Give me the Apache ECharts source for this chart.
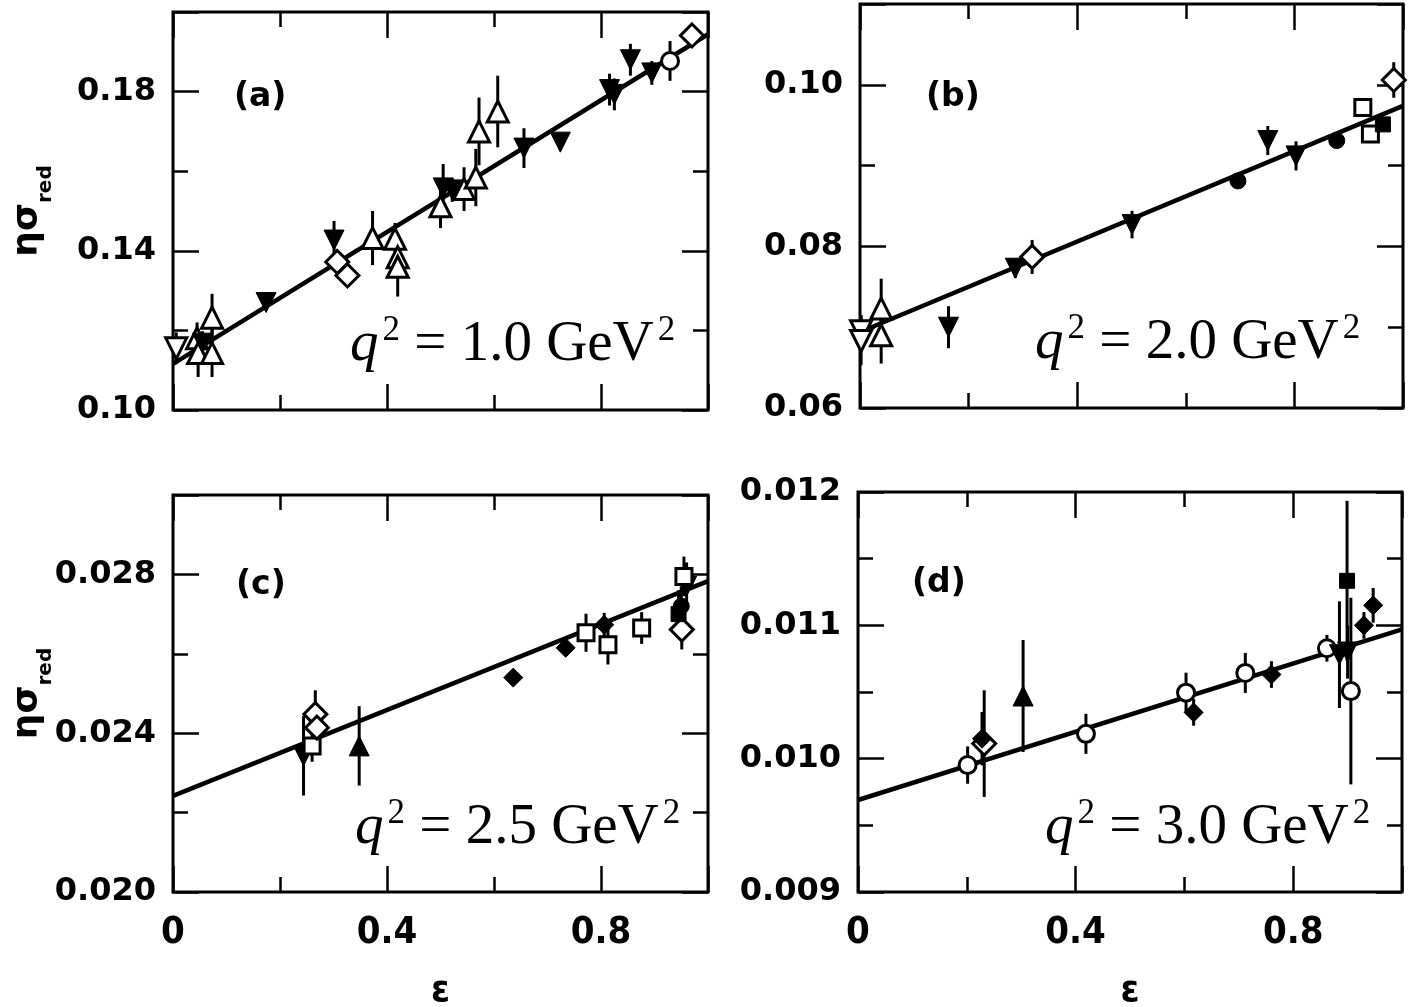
<!DOCTYPE html>
<html>
<head>
<meta charset="utf-8">
<script src="https://cdn.jsdelivr.net/npm/echarts@6/dist/echarts.min.js"></script>
<style>
  html, body { margin: 0; padding: 0; background: #fff; }
  #chart { width: 1418px; height: 1007px; }
</style>
</head>
<body>
<div id="chart"></div>
<script>
// Reduced cross sections eta*sigma_red versus epsilon at four q^2 values.
// Each point: [epsilon, eta*sigma_red, error half-length]

// (a) q^2 = 1.0 GeV^2
const a_openUp = [[0.045,0.1180,0.004],[0.047,0.1143,0.006],[0.073,0.1232,0.006],[0.073,0.1143,0.006],
  [0.373,0.1432,0.0068],[0.415,0.1430,0.004],[0.420,0.1384,0.004],[0.420,0.1360,0.0075],
  [0.500,0.1512,0.0055],[0.544,0.1555,0.0055],[0.566,0.1584,0.0072],[0.572,0.1700,0.0085],[0.607,0.1750,0.0090]];
const a_openDown = [[0.006,0.1155,0.004]];
const a_fillDown = [[0.055,0.1168,0.003],[0.174,0.1270,0.002],[0.301,0.1427,0.0048],[0.505,0.1558,0.006],
  [0.522,0.1553,0.003],[0.656,0.1658,0.005],[0.724,0.1673,0.002],[0.816,0.1805,0.004],[0.825,0.1793,0.004],
  [0.855,0.1880,0.004],[0.895,0.1847,0.003]];
const a_openDiamond = [[0.307,0.1372,0.0015],[0.326,0.1338,0.0015],[0.970,0.1941,0.002]];
const a_openCircle = [[0.929,0.1877,0.005]];
const a_fit = [[0,0.1116],[1,0.1944]];

// (b) q^2 = 2.0 GeV^2
const b_openDown = [[0.002,0.0695,0.002],[0.002,0.0683,0.003]];
const b_openUp = [[0.039,0.0723,0.0037],[0.039,0.0690,0.0035]];
const b_fillDown = [[0.163,0.0700,0.0026],[0.286,0.0773,0.0012],[0.501,0.0827,0.0017],[0.751,0.0931,0.0018],[0.803,0.0912,0.0018]];
const b_openDiamond = [[0.317,0.0787,0.0021],[0.983,0.1006,0.0022]];
const b_fillCircle = [[0.696,0.0881,0.0005],[0.878,0.0931,0.0006]];
const b_openSquare = [[0.926,0.0972,0.001],[0.940,0.0939,0.001]];
const b_fillSquare = [[0.963,0.0951,0.0008]];
const b_fit = [[0,0.0694],[1,0.0974]];

// (c) q^2 = 2.5 GeV^2
const c_fillDown = [[0.244,0.02343,0.0010],[0.960,0.02770,0.0006]];
const c_openSquare = [[0.260,0.02368,0.0004],[0.772,0.02653,0.00048],[0.813,0.02623,0.0005],[0.876,0.02665,0.0004],[0.955,0.02795,0.0005]];
const c_openDiamond = [[0.266,0.02448,0.0006],[0.269,0.02414,0.0004],[0.951,0.02661,0.0005]];
const c_fillUp = [[0.348,0.02368,0.0010]];
const c_fillDiamond = [[0.636,0.02540,0.0002],[0.734,0.02615,0.0002],[0.806,0.02673,0.0003]];
const c_fillSquare = [[0.945,0.02700,0.0006]];
const c_fillCircle = [[0.950,0.02720,0.0005]];
const c_fit = [[0,0.02242],[1,0.02783]];

// (d) q^2 = 3.0 GeV^2
const d_openCircle = [[0.2015,0.009952,0.00014],[0.419,0.010186,0.00015],[0.603,0.010495,0.00015],[0.712,0.010643,0.00015],[0.862,0.010828,0.0001],[0.906,0.010507,0.0007]];
const d_openDiamond = [[0.232,0.010113,0.0004]];
const d_fillDiamond = [[0.228,0.010150,0.0002],[0.617,0.010347,0.0001],[0.760,0.010631,0.0001],[0.930,0.011000,0.0001],[0.947,0.011150,0.00013]];
const d_fillUp = [[0.3035,0.010470,0.00042]];
const d_fillSquare = [[0.899,0.011334,0.0006]];
const d_fillDown = [[0.885,0.010780,0.0004],[0.900,0.010800,0.0002]];
const d_fit = [[0,0.00969],[1,0.01097]];

// Panel captions
const panelTags = ['(a)', '(b)', '(c)', '(d)'];
const q2Values = ['1.0', '2.0', '2.5', '3.0'];

// Marker styles
const OPEN_UP = {symbol: 'triangle', rotate: 0, filled: false, size: 21};
const OPEN_DOWN = {symbol: 'triangle', rotate: 180, filled: false, size: 21};
const FILL_UP = {symbol: 'triangle', rotate: 0, filled: true, size: 20};
const FILL_DOWN = {symbol: 'triangle', rotate: 180, filled: true, size: 20};
const OPEN_DIAMOND = {symbol: 'diamond', rotate: 0, filled: false, size: 23};
const FILL_DIAMOND = {symbol: 'diamond', rotate: 0, filled: true, size: 19};
const OPEN_CIRCLE = {symbol: 'circle', rotate: 0, filled: false, size: 17};
const FILL_CIRCLE = {symbol: 'circle', rotate: 0, filled: true, size: 16};
const OPEN_SQUARE = {symbol: 'rect', rotate: 0, filled: false, size: 16};
const FILL_SQUARE = {symbol: 'rect', rotate: 0, filled: true, size: 15};

const panels = [
  { box: {left: 173, top: 12, width: 535, height: 398}, yMin: 0.10, yMax: 0.20, yMajor: 0.04, yMinor: 0.02, yDec: 2,
    xLabels: false, yName: true, fit: a_fit,
    groups: [[a_openUp, OPEN_UP], [a_openDown, OPEN_DOWN], [a_fillDown, FILL_DOWN], [a_openDiamond, OPEN_DIAMOND], [a_openCircle, OPEN_CIRCLE]],
    tagPos: [234, 97], q2Pos: [350, 362] },
  { box: {left: 860, top: 4, width: 543, height: 404}, yMin: 0.06, yMax: 0.11, yMajor: 0.02, yMinor: 0.01, yDec: 2,
    xLabels: false, yName: false, fit: b_fit,
    groups: [[b_openDown, OPEN_DOWN], [b_openUp, OPEN_UP], [b_fillDown, FILL_DOWN], [b_openDiamond, OPEN_DIAMOND],
             [b_fillCircle, FILL_CIRCLE], [b_openSquare, OPEN_SQUARE], [b_fillSquare, FILL_SQUARE]],
    tagPos: [926, 97], q2Pos: [1035, 360] },
  { box: {left: 173, top: 495, width: 535, height: 397}, yMin: 0.020, yMax: 0.030, yMajor: 0.004, yMinor: 0.002, yDec: 3,
    xLabels: true, yName: true, fit: c_fit,
    groups: [[c_fillDown, FILL_DOWN], [c_openSquare, OPEN_SQUARE], [c_openDiamond, OPEN_DIAMOND], [c_fillUp, FILL_UP],
             [c_fillDiamond, FILL_DIAMOND], [c_fillSquare, FILL_SQUARE], [c_fillCircle, FILL_CIRCLE]],
    tagPos: [236, 585], q2Pos: [355, 845] },
  { box: {left: 858, top: 492, width: 544, height: 400}, yMin: 0.009, yMax: 0.012, yMajor: 0.001, yMinor: 0.0005, yDec: 3,
    xLabels: true, yName: false, fit: d_fit,
    groups: [[d_openCircle, OPEN_CIRCLE], [d_openDiamond, OPEN_DIAMOND], [d_fillDiamond, FILL_DIAMOND], [d_fillUp, FILL_UP],
             [d_fillSquare, FILL_SQUARE], [d_fillDown, FILL_DOWN]],
    tagPos: [912, 583], q2Pos: [1045, 845] }
];

const TICK_MAJOR = 26, TICK_MINOR = 15, TICK_W = 2.5;
const BOLD_FONT = 'DejaVu Sans';
const COND_FONT = 'DejaVu Sans Condensed';

function onStep(v, start, step) {
  const k = (v - start) / step;
  return Math.abs(k - Math.round(k)) < 1e-6;
}

const grids = [], xAxes = [], yAxes = [], series = [], graphics = [];

panels.forEach((p, i) => {
  grids.push(Object.assign({show: true, borderColor: '#000', borderWidth: 3, backgroundColor: 'transparent', containLabel: false, outerBoundsMode: 'none'}, p.box));
  const xBase = {gridIndex: i, type: 'value', min: 0, max: 1, splitLine: {show: false}, axisLine: {show: false, onZero: false}};
  const yBase = {gridIndex: i, type: 'value', min: p.yMin, max: p.yMax, splitLine: {show: false}, axisLine: {show: false, onZero: false}};
  const tick = len => ({show: true, inside: true, length: len, lineStyle: {color: '#000', width: TICK_W}});
  const xFirst = xAxes.length, yFirst = yAxes.length;

  ['bottom', 'top'].forEach(pos => {
    const labelled = pos === 'bottom' && p.xLabels;
    xAxes.push(Object.assign({}, xBase, {
      position: pos, interval: 0.4, axisTick: tick(TICK_MAJOR),
      axisLabel: {show: labelled, margin: 22, color: '#000', fontFamily: COND_FONT, fontWeight: 'bold', fontSize: 38,
        formatter: v => onStep(v, 0, 0.4) ? (v === 0 ? '0' : v.toFixed(1)) : ''},
      name: labelled ? 'ε' : '', nameLocation: 'middle', nameGap: 80, nameMoveOverlap: false,
      nameTextStyle: {color: '#000', fontFamily: COND_FONT, fontWeight: 'bold', fontSize: 38}
    }));
    xAxes.push(Object.assign({}, xBase, {position: pos, interval: 0.2, axisTick: tick(TICK_MINOR), axisLabel: {show: false}}));
  });

  ['left', 'right'].forEach(pos => {
    const labelled = pos === 'left';
    const named = labelled && p.yName;
    yAxes.push(Object.assign({}, yBase, {
      position: pos, interval: p.yMajor, axisTick: tick(TICK_MAJOR),
      axisLabel: {show: labelled, margin: 17, color: '#000', fontFamily: BOLD_FONT, fontWeight: 'bold', fontSize: 32,
        formatter: v => onStep(v, p.yMin, p.yMajor) ? v.toFixed(p.yDec) : ''},
      name: named ? '{g|ησ}{s|red}' : '', nameLocation: 'middle', nameRotate: 90, nameGap: 117, nameMoveOverlap: false,
      nameTextStyle: {color: '#000', rich: {
        g: {fontFamily: BOLD_FONT, fontWeight: 'bold', fontSize: 36, lineHeight: 38, verticalAlign: 'top', color: '#000'},
        s: {fontFamily: BOLD_FONT, fontWeight: 'bold', fontSize: 20, lineHeight: 46, verticalAlign: 'bottom', color: '#000'}
      }}
    }));
    yAxes.push(Object.assign({}, yBase, {position: pos, interval: p.yMinor, axisTick: tick(TICK_MINOR), axisLabel: {show: false}}));
  });

  // fitted straight line
  series.push({
    type: 'line', xAxisIndex: xFirst, yAxisIndex: yFirst, data: p.fit, showSymbol: false, silent: true,
    lineStyle: {color: '#000', width: 4.5}, z: 2
  });

  p.groups.forEach(([pts, m]) => {
    // vertical error bars
    series.push({
      type: 'custom', xAxisIndex: xFirst, yAxisIndex: yFirst, data: pts, silent: true, z: 3,
      renderItem: (params, api) => {
        const x = api.value(0), y = api.value(1), e = api.value(2);
        const lo = api.coord([x, y - e]), hi = api.coord([x, y + e]);
        return {type: 'line', shape: {x1: lo[0], y1: lo[1], x2: hi[0], y2: hi[1]},
                style: {stroke: '#000', lineWidth: 3}};
      }
    });
    // markers
    series.push({
      type: 'scatter', xAxisIndex: xFirst, yAxisIndex: yFirst, data: pts.map(d => [d[0], d[1]]), silent: true, z: 4,
      symbol: m.symbol, symbolRotate: m.rotate, symbolSize: m.size,
      itemStyle: {color: m.filled ? '#000' : '#fff', borderColor: '#000', borderWidth: m.filled ? 1 : 3, opacity: 1}
    });
  });

  graphics.push({
    type: 'text', x: p.tagPos[0], y: p.tagPos[1], z: 10,
    style: {text: panelTags[i], fill: '#000', font: 'bold 33px "' + BOLD_FONT + '"', verticalAlign: 'middle', align: 'left'}
  });
  graphics.push({
    type: 'text', x: p.q2Pos[0], y: p.q2Pos[1] + 15, z: 10,
    style: {
      text: '{q|q}{sup|2}{t| = ' + q2Values[i] + ' GeV}{sup|2}', verticalAlign: 'bottom', align: 'left',
      rich: {
        q: {font: 'italic 57px "Liberation Serif"', fill: '#000', lineHeight: 64},
        t: {font: '57px "Liberation Serif"', fill: '#000', lineHeight: 64},
        sup: {font: '35px "Liberation Serif"', fill: '#000', lineHeight: 14, verticalAlign: 'top', padding: [0, 0, 0, 4]}
      }
    }
  });
});

const chart = echarts.init(document.getElementById('chart'), null, {renderer: 'canvas'});
chart.setOption({
  animation: false,
  backgroundColor: '#fff',
  grid: grids,
  xAxis: xAxes,
  yAxis: yAxes,
  series: series,
  graphic: graphics
});
</script>
</body>
</html>
